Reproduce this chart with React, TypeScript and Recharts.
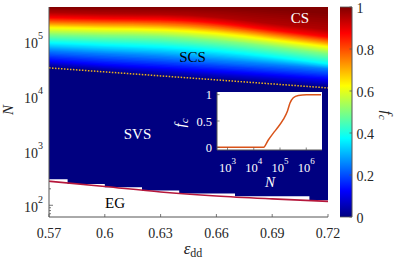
import React from 'react';
import { ComposedChart, Area, Line, XAxis, YAxis, CartesianGrid } from 'recharts';

// ---------------- data: main phase diagram ----------------
const epsGrid = [0.57, 0.6, 0.63, 0.66, 0.69, 0.72];
const fcLevels = [0, 0.125, 0.25, 0.375, 0.5, 0.625, 0.75, 0.875, 0.95, 1];
// log10(N) of the f_c contours, read at epsGrid
const log10N_fc0 = [4.514, 4.44, 4.367, 4.294, 4.22, 4.147]; // N_c boundary (dotted)
const log10N_fc0125 = [4.642, 4.569, 4.514, 4.45, 4.385, 4.312];
const log10N_fc025 = [4.826, 4.771, 4.716, 4.642, 4.569, 4.495];
const log10N_fc0375 = [4.972, 4.936, 4.899, 4.826, 4.716, 4.587];
const log10N_fc05 = [5.119, 5.101, 5.083, 5.009, 4.899, 4.771];
const log10N_fc0625 = [5.248, 5.229, 5.211, 5.147, 5.028, 4.899];
const log10N_fc075 = [5.339, 5.321, 5.303, 5.239, 5.119, 4.991];
const log10N_fc0875 = [5.431, 5.413, 5.404, 5.339, 5.211, 5.083];
const log10N_fc095 = [5.523, 5.505, 5.495, 5.44, 5.321, 5.211];
const log10N_fc1 = [5.628, 5.628, 5.628, 5.628, 5.596, 5.541];

// EG boundary curve
const egEps = [0.57, 0.6, 0.63, 0.66, 0.69, 0.72];
const egN = [275, 220, 175, 148, 131, 118];

// pixelated (grid) lower edge of the SVS region
const stairEps = [0.57, 0.58, 0.6, 0.62, 0.64, 0.67, 0.71, 0.72];
const stairN = [298, 246, 214, 186, 164, 146, 124, 124];

// ticks
const epsTicks = [0.57, 0.6, 0.63, 0.66, 0.69, 0.72];
const epsTickLabels = ['0.57', '0.6', '0.63', '0.66', '0.69', '0.72'];
const nMajorTicks = [100, 1000, 10000, 100000];
const nMinorLeft = [70, 80, 90, 200];
const nMinorRight = [70, 80, 90, 100];
const cbTicks = [0, 0.2, 0.4, 0.6, 0.8, 1];
const cbTickLabels = ['0', '0.2', '0.4', '0.6', '0.8', '1'];

// ---------------- data: inset ----------------
const insetN = [398, 1000, 10000, 23100, 35800, 55600, 86100, 133700, 189700, 240400, 321400, 497700, 1040000, 3650000];
const insetFc = [0, 0, 0, 0, 0.14, 0.27, 0.39, 0.53, 0.68, 0.84, 0.94, 0.985, 1, 1];
const insetNTicks = [1e3, 1e4, 1e5, 1e6];
const insetFcTicks = [0, 0.5, 1];
const insetFcLabels = ['0', '0.5', '1'];

// colour bar range
const cbRows = [{ x: 0, lo: 0, hi: 1 }, { x: 1, lo: 0, hi: 1 }];

// ---------------- styling helpers ----------------
const FONT = "'Liberation Serif', 'Times New Roman', serif";
const AX = '#555';
const TXT = '#262626';
const YMIN = 61;
const YMAX = 424000;

const jet = (t: number) => {
  const c = (v: number) => Math.max(0, Math.min(1, v));
  const r = c(Math.min(4 * t - 1.5, -4 * t + 4.5));
  const g = c(Math.min(4 * t - 0.5, -4 * t + 3.5));
  const b = c(Math.min(4 * t + 0.5, -4 * t + 2.5));
  return `rgb(${Math.round(r * 255)},${Math.round(g * 255)},${Math.round(b * 255)})`;
};

const contours = [
  log10N_fc0, log10N_fc0125, log10N_fc025, log10N_fc0375, log10N_fc05,
  log10N_fc0625, log10N_fc075, log10N_fc0875, log10N_fc095, log10N_fc1,
];

const heatRows = epsGrid.map((eps, k) => ({ eps, k }));
const egRows = egEps.map((eps, i) => ({ eps, n: egN[i] }));
const stairRows = stairEps.map((eps, i) => ({ eps, n: stairN[i] }));
const insetRows = insetN.map((n, i) => ({ n, fc: insetFc[i] }));

// shading: each contour band is painted in thin sub-steps (bottom to top)
const SUB = 8;
const heatBands: { key: string; color: string; acc: (r: any) => number[] }[] = [];
for (let i = 0; i < contours.length - 1; i++) {
  for (let s = 0; s < SUB; s++) {
    const u = s / SUB;
    const f = fcLevels[i] + ((fcLevels[i + 1] - fcLevels[i]) * (s + 0.5)) / SUB;
    heatBands.push({
      key: `h${i}-${s}`,
      color: jet(f),
      acc: (r: any) => {
        const a = contours[i][r.k];
        const b = contours[i + 1][r.k];
        return [Math.pow(10, a + (b - a) * u), YMAX];
      },
    });
  }
}

const MainXTick = (p: any) => {
  const { x, y, payload } = p;
  const idx = epsTicks.indexOf(payload.value);
  return (
    <g>
      <line x1={x} x2={x} y1={y} y2={y - 3} stroke={AX} strokeWidth={0.8} />
      <text x={x} y={y + 20.5} textAnchor="middle" fontSize={14} fill={TXT} fontFamily={FONT}>
        {epsTickLabels[idx]}
      </text>
    </g>
  );
};

const MainYTick = (p: any) => {
  const { x, y, payload } = p;
  const v = payload.value;
  const major = nMajorTicks.indexOf(v);
  if (major >= 0) {
    const exp = Math.round(Math.log10(v));
    return (
      <g>
        {v <= 100 && <line x1={x} x2={x + 4} y1={y} y2={y} stroke={AX} strokeWidth={0.8} />}
        <text x={x - 6} y={y + 7} textAnchor="end" fontSize={14} fill={TXT} fontFamily={FONT}>
          <tspan>10</tspan>
          <tspan dy={-9} fontSize={10}>{exp}</tspan>
        </text>
      </g>
    );
  }
  return <line x1={x} x2={x + 2} y1={y} y2={y} stroke={AX} strokeWidth={0.8} />;
};

const MainYRightTick = (p: any) => {
  const { x, y, payload } = p;
  const len = payload.value === 100 ? 4 : 2;
  return <line x1={x} x2={x - len} y1={y} y2={y} stroke={AX} strokeWidth={0.8} />;
};

function MainChart() {
  return (
    <ComposedChart width={395} height={259} data={heatRows} margin={{ top: 7, right: 67, bottom: 0, left: 0 }}>
      <CartesianGrid fill={jet(0)} fillOpacity={1} horizontal={false} vertical={false} stroke="none" />
      <XAxis dataKey="eps" type="number" domain={[0.57, 0.72]} ticks={epsTicks} interval={0} height={42}
        tickLine={false} tickSize={0} tickMargin={0} axisLine={{ stroke: AX }} tick={MainXTick} allowDataOverflow />
      <XAxis xAxisId="top" orientation="top" type="number" domain={[0.57, 0.72]} height={0} zIndex={900}
        tick={false} tickLine={false} axisLine={{ stroke: AX }} allowDataOverflow />
      <YAxis type="number" scale="log" domain={[YMIN, YMAX]} ticks={[...nMinorLeft, ...nMajorTicks].sort((a, b) => a - b)}
        interval={0} width={49} tickLine={false} tickSize={0} tickMargin={0} axisLine={{ stroke: AX }}
        tick={MainYTick} allowDataOverflow />
      <YAxis yAxisId="right" orientation="right" type="number" scale="log" domain={[YMIN, YMAX]} ticks={nMinorRight}
        interval={0} width={0} tickLine={false} tickSize={0} tickMargin={0} axisLine={{ stroke: AX }} zIndex={900}
        tick={MainYRightTick} allowDataOverflow />
      {heatBands.map((b) => (
        <Area key={b.key} dataKey={b.acc} type="monotone" stroke="none" fill={b.color} fillOpacity={1}
          isAnimationActive={false} dot={false} activeDot={false} />
      ))}
      <Area data={stairRows} dataKey={(r: any) => [YMIN, r.n]} type="stepAfter" stroke="none" fill="#ffffff"
        fillOpacity={1} isAnimationActive={false} dot={false} activeDot={false} />
      <Line dataKey={(r: any) => Math.pow(10, log10N_fc0[r.k])} type="monotone" stroke="#EDB120" strokeWidth={1.5}
        strokeDasharray="1.5 1.5" dot={false} activeDot={false} isAnimationActive={false} />
      <Line data={egRows} dataKey="n" type="monotone" stroke="#B5173B" strokeWidth={1.6} dot={false}
        activeDot={false} isAnimationActive={false} />
    </ComposedChart>
  );
}

const CbTick = (p: any) => {
  const { x, y, payload } = p;
  const idx = cbTicks.indexOf(payload.value);
  return (
    <g>
      <line x1={x} x2={x - 2.5} y1={y} y2={y} stroke={AX} strokeWidth={0.8} />
      <text x={x + 4.5} y={y + 5.5} textAnchor="start" fontSize={14} fill={TXT} fontFamily={FONT}>
        {cbTickLabels[idx]}
      </text>
    </g>
  );
};

function ColorBar() {
  const stops = [0, 0.125, 0.375, 0.625, 0.875, 1];
  return (
    <ComposedChart width={55} height={259} data={cbRows} margin={{ top: 7, right: 0, bottom: 42, left: 0 }}>
      <defs>
        <linearGradient id="jetCb" x1="0" y1="1" x2="0" y2="0">
          {stops.map((s) => (
            <stop key={s} offset={s} stopColor={jet(s)} />
          ))}
        </linearGradient>
      </defs>
      <XAxis dataKey="x" type="number" domain={[0, 1]} height={0} tick={false} tickLine={false} axisLine={{ stroke: AX }} />
      <YAxis yAxisId="cb" orientation="right" type="number" domain={[0, 1]} ticks={cbTicks} interval={0} width={43}
        tickLine={false} tickSize={0} tickMargin={0} axisLine={{ stroke: AX }} tick={CbTick} />
      <Area yAxisId="cb" dataKey={(r: any) => [r.lo, r.hi]} type="linear" fill="url(#jetCb)" fillOpacity={1}
        stroke={AX} strokeWidth={0.8} isAnimationActive={false} dot={false} activeDot={false} />
    </ComposedChart>
  );
}

const InsetXTick = (p: any) => {
  const { x, y, payload } = p;
  const exp = Math.round(Math.log10(payload.value));
  return (
    <g>
      <line x1={x} x2={x} y1={y} y2={y - 2.5} stroke={AX} strokeWidth={0.7} />
      <text x={x} y={y + 21.5} textAnchor="middle" fontSize={12.5} fill="#ffffff" fontFamily={FONT}>
        <tspan>10</tspan>
        <tspan dy={-7.5} fontSize={9}>{exp}</tspan>
      </text>
    </g>
  );
};

const InsetYTick = (p: any) => {
  const { x, y, payload } = p;
  const idx = insetFcTicks.indexOf(payload.value);
  return (
    <g>
      <line x1={x} x2={x + 2.5} y1={y} y2={y} stroke={AX} strokeWidth={0.7} />
      <text x={x - 5} y={y + 4.5} textAnchor="end" fontSize={12.5} fill="#ffffff" fontFamily={FONT}>
        {insetFcLabels[idx]}
      </text>
    </g>
  );
};

function Inset() {
  return (
    <ComposedChart width={170} height={110} data={insetRows} margin={{ top: 7, right: 8, bottom: 0, left: 0 }}>
      <CartesianGrid fill="#ffffff" fillOpacity={1} horizontal={false} vertical={false} stroke="none" />
      <XAxis dataKey="n" type="number" scale="log" domain={[398.1, 3981000]} ticks={insetNTicks} interval={0}
        height={45} tickLine={false} tickSize={0} tickMargin={0} axisLine={{ stroke: AX }} tick={InsetXTick} allowDataOverflow />
      <XAxis xAxisId="top" orientation="top" type="number" domain={[0, 1]} height={0} tick={false} tickLine={false} axisLine={{ stroke: AX }} />
      <YAxis type="number" domain={[-0.05, 1.05]} ticks={insetFcTicks} interval={0} width={57}
        tickLine={false} tickSize={0} tickMargin={0} axisLine={{ stroke: AX }} tick={InsetYTick} allowDataOverflow />
      <YAxis yAxisId="right" orientation="right" type="number" domain={[0, 1]} width={0} tick={false} tickLine={false} axisLine={{ stroke: AX }} />
      <Line dataKey="fc" type="monotone" stroke="#D95319" strokeWidth={1.5} dot={false} activeDot={false} isAnimationActive={false} />
    </ComposedChart>
  );
}

export default function App() {
  return (
    <div style={{ position: 'absolute', left: 0, top: 0, width: 395, height: 259, background: '#ffffff', overflow: 'hidden' }}>
      <div style={{ position: 'absolute', left: 0, top: 0 }}>
        <MainChart />
      </div>
      <div style={{ position: 'absolute', left: 340, top: 0 }}>
        <ColorBar />
      </div>
      <div style={{ position: 'absolute', left: 160, top: 85 }}>
        <Inset />
      </div>
      <svg width={395} height={259} style={{ position: 'absolute', left: 0, top: 0, pointerEvents: 'none' }} fontFamily={FONT}>
        <text x={300} y={23.3} textAnchor="middle" fontSize={15} fill="#ffffff">CS</text>
        <text x={192.5} y={61.7} textAnchor="middle" fontSize={15} fill="#000000">SCS</text>
        <text x={137.5} y={138.5} textAnchor="middle" fontSize={15} fill="#ffffff">SVS</text>
        <text x={115} y={207.5} textAnchor="middle" fontSize={15} fill="#000000">EG</text>
        <text transform="translate(13,110) rotate(-90)" textAnchor="middle" fontSize={15} fontStyle="italic" fill={TXT}>N</text>
        <text x={193} y={254} textAnchor="middle" fontSize={17} fill={TXT}>
          <tspan fontStyle="italic">ε</tspan>
          <tspan dy={3} fontSize={12}>dd</tspan>
        </text>
        <text x={270} y={186.7} textAnchor="middle" fontSize={15} fontStyle="italic" fill="#ffffff">N</text>
        <text transform="translate(185,123) rotate(-90)" textAnchor="middle" fontSize={15} fontStyle="italic" fill="#ffffff">
          <tspan>f</tspan>
          <tspan dy={3} fontSize={11}>c</tspan>
        </text>
        <text transform="translate(382,115) rotate(90)" textAnchor="middle" fontSize={15} fontStyle="italic" fill={TXT}>
          <tspan>f</tspan>
          <tspan dy={3} fontSize={11}>c</tspan>
        </text>
      </svg>
    </div>
  );
}
